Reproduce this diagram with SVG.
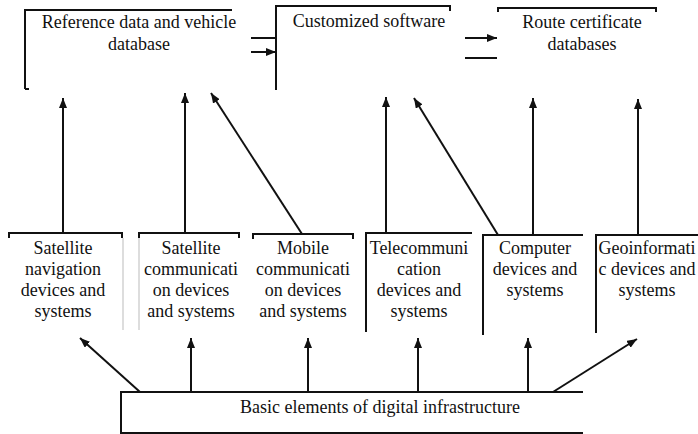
<svg xmlns="http://www.w3.org/2000/svg" width="698" height="434" viewBox="0 0 698 434" font-family="'Liberation Serif', 'DejaVu Serif', serif">
<style>
  text { font-family: 'Liberation Serif', 'DejaVu Serif', serif; font-size: 18px; fill: #111; text-anchor: middle; }
  .edge { fill: none; stroke: #111; stroke-width: 2; }
  .faint { fill: none; stroke: #bbb; stroke-width: 1; }
  .conn { fill: none; stroke: #111; stroke-width: 2; }
</style>
<defs>
  <marker id="ah" viewBox="0 0 10 8" refX="10" refY="4" markerWidth="10" markerHeight="8" markerUnits="userSpaceOnUse" orient="auto">
    <path d="M0,0 L10,4 L0,8 Z" fill="#111"/>
  </marker>
</defs>
<rect width="698" height="434" fill="#fff"/>

<g id="ref-data">
  <path class="edge" d="M25,89 L25,10 L232,10"/>
  <path class="edge" d="M25,89 L29,89"/>
  <text x="139" y="28">Reference data and vehicle</text>
  <text x="139" y="50">database</text>
</g>
<g id="software">
  <path class="edge" d="M276,90 L276,6 L450,6 L450,11"/>
  <text x="369" y="27">Customized software</text>
</g>
<g id="route-cert">
  <path class="edge" d="M498,12 L498,8 L656,8 L656,12"/>
  <text x="582" y="28">Route certificate</text>
  <text x="582" y="50">databases</text>
</g>

<g id="sat-nav">
  <path class="edge" d="M9,238 L9,233 L122,233 L122,238"/>
  <path class="faint" d="M123,238 L123,330"/>
  <text x="63" y="254">Satellite</text>
  <text x="63" y="275">navigation</text>
  <text x="63" y="296">devices and</text>
  <text x="63" y="317">systems</text>
</g>
<g id="sat-comm">
  <path class="edge" d="M139,238 L139,233 L239,233 L239,238"/>
  <path class="faint" d="M139,238 L139,330"/>
  <text x="191" y="254">Satellite</text>
  <text x="191" y="275">communicati</text>
  <text x="191" y="296">on devices</text>
  <text x="191" y="317">and systems</text>
</g>
<g id="mobile">
  <path class="edge" d="M253,239 L253,234 L353,234 L353,239"/>
  <text x="303" y="254">Mobile</text>
  <text x="303" y="275">communicati</text>
  <text x="303" y="296">on devices</text>
  <text x="303" y="317">and systems</text>
</g>
<g id="telecom">
  <path class="edge" d="M366,332 L366,233 L472,233"/>
  <text x="419" y="254">Telecommuni</text>
  <text x="419" y="275">cation</text>
  <text x="419" y="296">devices and</text>
  <text x="419" y="317">systems</text>
</g>
<g id="computer">
  <path class="edge" d="M483,335 L483,235 L583,235"/>
  <text x="535" y="254">Computer</text>
  <text x="535" y="275">devices and</text>
  <text x="535" y="296">systems</text>
</g>
<g id="geoinfo">
  <path class="edge" d="M596,333 L596,235 L698,235"/>
  <text x="647" y="254">Geoinformati</text>
  <text x="647" y="275">c devices and</text>
  <text x="647" y="296">systems</text>
</g>

<g id="basic">
  <path class="edge" d="M583,392 L121,392 L121,433 L583,433"/>
  <text x="380" y="413">Basic elements of digital infrastructure</text>
</g>

<g id="connectors">
  <line class="conn" x1="251" y1="38" x2="276" y2="38"/>
  <line class="conn" x1="251" y1="52" x2="276" y2="52" marker-end="url(#ah)"/>
  <line class="conn" x1="465" y1="38" x2="497" y2="38" marker-end="url(#ah)"/>
  <line class="conn" x1="465" y1="58" x2="497" y2="58"/>

  <line class="conn" x1="63" y1="233" x2="63" y2="98" marker-end="url(#ah)"/>
  <line class="conn" x1="185" y1="233" x2="185" y2="93" marker-end="url(#ah)"/>
  <line class="conn" x1="302" y1="234" x2="211" y2="93" marker-end="url(#ah)"/>
  <line class="conn" x1="386" y1="233" x2="386" y2="97" marker-end="url(#ah)"/>
  <line class="conn" x1="498" y1="235" x2="414" y2="98" marker-end="url(#ah)"/>
  <line class="conn" x1="533" y1="235" x2="533" y2="98" marker-end="url(#ah)"/>
  <line class="conn" x1="638" y1="235" x2="638" y2="99" marker-end="url(#ah)"/>

  <line class="conn" x1="140" y1="392" x2="80" y2="338" marker-end="url(#ah)"/>
  <line class="conn" x1="191" y1="392" x2="191" y2="338" marker-end="url(#ah)"/>
  <line class="conn" x1="308" y1="392" x2="308" y2="338" marker-end="url(#ah)"/>
  <line class="conn" x1="418" y1="392" x2="418" y2="338" marker-end="url(#ah)"/>
  <line class="conn" x1="528" y1="392" x2="528" y2="338" marker-end="url(#ah)"/>
  <line class="conn" x1="553" y1="392" x2="637" y2="339" marker-end="url(#ah)"/>
</g>
</svg>
